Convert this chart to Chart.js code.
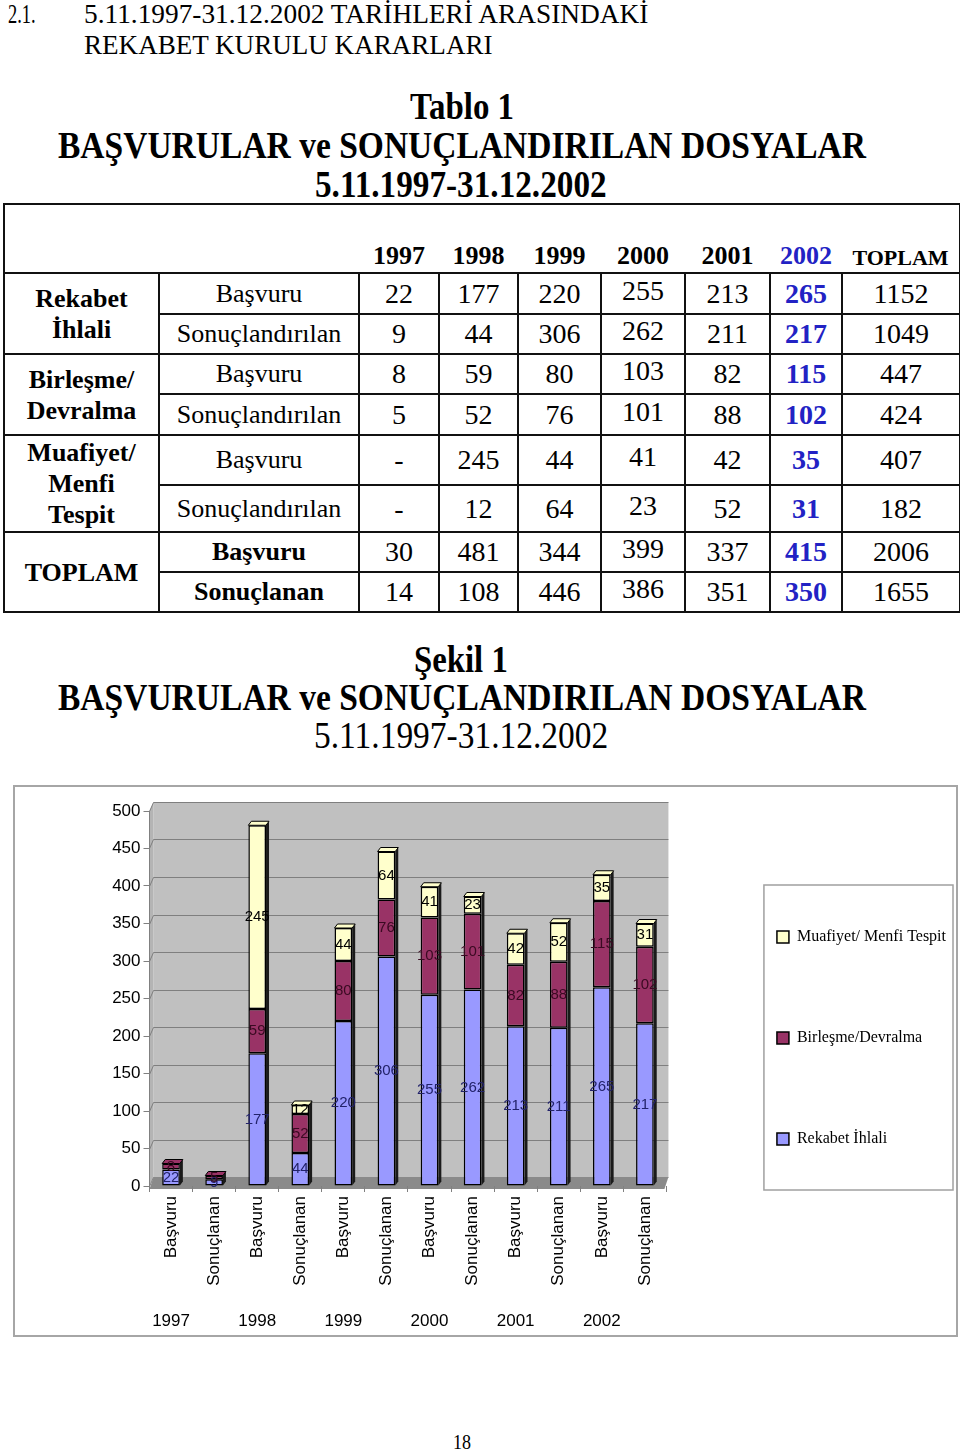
<!DOCTYPE html>
<html lang="tr">
<head>
<meta charset="utf-8">
<title>Başvurular ve Sonuçlandırılan Dosyalar</title>
<script src="https://cdn.jsdelivr.net/npm/chart.js@4.4.1/dist/chart.umd.min.js"></script>
<style>
  html, body { margin: 0; padding: 0; background: #fff; }
  body { width: 960px; height: 1454px; position: relative; overflow: hidden;
         font-family: "Liberation Serif", "Times New Roman", serif; color: #000; }
  .line { position: absolute; white-space: nowrap; }
  .line span { display: inline-block; transform-origin: 0 0; }
  #tablo { position: absolute; left: 3px; top: 203px; width: 956px;
           border-collapse: collapse; table-layout: fixed; }
  #tablo td { border: 2px solid #111; text-align: center; padding: 0; font-size: 28px; line-height: 1; }
  #tablo td.grp { font-weight: bold; font-size: 26px; line-height: 31px; }
  #tablo td.lbl { font-size: 26px; }
  #tablo td.b { font-weight: bold; }
  #tablo td.blue { color: #2222c4; font-weight: bold; }
  #tablo td.up { padding-bottom: 6px; }
  #tablo tr.head td { border-left: none; border-right: none; font-weight: bold; font-size: 26px;
                      vertical-align: bottom; padding-bottom: 3px; }
  #tablo tr.head td:first-child { border-left: 2px solid #111; }
  #tablo tr.head td:last-child { border-right: 2px solid #111; font-size: 22px; }
  #chartBox { position: absolute; left: 13px; top: 785px; width: 945px; height: 552px;
              box-sizing: border-box; border: 2px solid #a6a6a6; }
</style>
</head>
<body>
<table id="tablo"></table>
<div id="chartBox"><canvas id="sekil"></canvas></div>
<script>
// --- data read from the page ---
const years = ['1997', '1998', '1999', '2000', '2001', '2002'];
const rekabetBasvuru = [22, 177, 220, 255, 213, 265];
const rekabetSonuc = [9, 44, 306, 262, 211, 217];
const birlesmeBasvuru = [8, 59, 80, 103, 82, 115];
const birlesmeSonuc = [5, 52, 76, 101, 88, 102];
const muafiyetBasvuru = [null, 245, 44, 41, 42, 35];
const muafiyetSonuc = [null, 12, 64, 23, 52, 31];
const toplamBasvuru = [30, 481, 344, 399, 337, 415];
const toplamSonuclanan = [14, 108, 446, 386, 351, 350];
const rowTotals = [1152, 1049, 447, 424, 407, 182, 2006, 1655];

const barLabels = ['Başvuru', 'Sonuçlanan', 'Başvuru', 'Sonuçlanan', 'Başvuru', 'Sonuçlanan',
                   'Başvuru', 'Sonuçlanan', 'Başvuru', 'Sonuçlanan', 'Başvuru', 'Sonuçlanan'];
const yearTicks = ['1997', '', '1998', '', '1999', '', '2000', '', '2001', '', '2002', ''];
const seriesNames = ['Rekabet İhlali', 'Birleşme/Devralma', 'Muafiyet/ Menfi Tespit'];
const yTicks = { min: 0, max: 500, step: 50 };

// --- page text ---
const lines = [
  { t: '2.1.', x: 8, w: 28, cap: 6, f: 27 },
  { t: '5.11.1997-31.12.2002 TARİHLERİ ARASINDAKİ', x: 84, w: 564, cap: 6, f: 27 },
  { t: 'REKABET KURULU KARARLARI', x: 84, w: 409, cap: 37, f: 27 },
  { t: 'Tablo 1', c: 462, w: 104, cap: 94, f: 38, b: true },
  { t: 'BAŞVURULAR ve SONUÇLANDIRILAN DOSYALAR', c: 462, w: 808, cap: 133, f: 38, b: true },
  { t: '5.11.1997-31.12.2002', c: 461, w: 292, cap: 172, f: 38, b: true },
  { t: 'Şekil 1', c: 461, w: 94, cap: 647, f: 38, b: true },
  { t: 'BAŞVURULAR ve SONUÇLANDIRILAN DOSYALAR', c: 462, w: 808, cap: 685, f: 38, b: true },
  { t: '5.11.1997-31.12.2002', c: 461, w: 294, cap: 723, f: 38 },
  { t: '18', c: 462, w: 18, cap: 1436, f: 20 }
];
lines.forEach(l => {
  const d = document.createElement('div');
  d.className = 'line';
  d.style.fontSize = l.f + 'px';
  d.style.lineHeight = l.f + 'px';
  d.style.fontWeight = l.b ? 'bold' : 'normal';
  d.style.top = (l.cap - 0.1825 * l.f) + 'px';
  d.style.left = (l.c !== undefined ? l.c - l.w / 2 : l.x) + 'px';
  const s = document.createElement('span');
  s.textContent = l.t;
  d.appendChild(s);
  document.body.appendChild(d);
  s.style.transform = 'scaleX(' + (l.w / s.offsetWidth) + ')';
});

// --- table ---
const groups = [
  { name: 'Rekabet<br>İhlali', rows: [['Başvuru', rekabetBasvuru], ['Sonuçlandırılan', rekabetSonuc]] },
  { name: 'Birleşme/<br>Devralma', rows: [['Başvuru', birlesmeBasvuru], ['Sonuçlandırılan', birlesmeSonuc]] },
  { name: 'Muafiyet/<br>Menfi<br>Tespit', rows: [['Başvuru', muafiyetBasvuru], ['Sonuçlandırılan', muafiyetSonuc]] },
  { name: 'TOPLAM', bold: true, rows: [['Başvuru', toplamBasvuru], ['Sonuçlanan', toplamSonuclanan]] }
];
const rowHeights = [41, 40, 40, 41, 50, 47, 40, 40];
const colWidths = [155, 200, 80, 79, 83, 84, 85, 72, 118];
let html = '<colgroup>' + colWidths.map(w => '<col style="width:' + w + 'px">').join('') + '</colgroup>';
html += '<tr class="head" style="height:69px"><td colspan="2"></td>' +
  years.map(y => '<td' + (y === '2002' ? ' style="color:#2222c4"' : '') + '>' + y + '</td>').join('') +
  '<td>TOPLAM</td></tr>';
let r = 0;
groups.forEach(g => {
  g.rows.forEach((row, k) => {
    html += '<tr style="height:' + rowHeights[r] + 'px">';
    if (k === 0) html += '<td class="grp" rowspan="2">' + g.name + '</td>';
    html += '<td class="lbl' + (g.bold ? ' b' : '') + '">' + row[0] + '</td>';
    row[1].forEach((v, i) => {
      const cls = i === 5 ? ' class="blue"' : (i === 3 ? ' class="up"' : '');
      html += '<td' + cls + '>' + (v === null ? '-' : v) + '</td>';
    });
    html += '<td>' + rowTotals[r] + '</td></tr>';
    r++;
  });
});
document.getElementById('tablo').innerHTML = html;

// --- chart ---
const pair = (a, b) => years.flatMap((_, i) => [a[i], b[i]]);
const rekabetIhlali = pair(rekabetBasvuru, rekabetSonuc);
const birlesmeDevralma = pair(birlesmeBasvuru, birlesmeSonuc);
const muafiyetMenfi = pair(muafiyetBasvuru, muafiyetSonuc);

const fills = ['#9999ff', '#993366', '#ffffcc'];
const labelInk = ['#22226a', '#3a0a22', '#000000'];

const wall = {
  id: 'wall',
  beforeDraw(chart) {
    const { ctx, chartArea: a, scales: { y } } = chart;
    const dx = 4, dy = 9;
    ctx.save();
    ctx.fillStyle = '#c0c0c0';
    ctx.fillRect(a.left + dx, a.top - dy, a.right - a.left - dx + 2, a.bottom - a.top);
    ctx.fillStyle = '#b4b4b4';
    ctx.beginPath();
    ctx.moveTo(a.left, a.top); ctx.lineTo(a.left + dx, a.top - dy);
    ctx.lineTo(a.left + dx, a.bottom - dy); ctx.lineTo(a.left, a.bottom);
    ctx.closePath(); ctx.fill();
    ctx.strokeStyle = '#7f7f7f';
    ctx.lineWidth = 1;
    y.ticks.forEach(t => {
      const py = Math.round(y.getPixelForValue(t.value) - dy) + 0.5;
      ctx.beginPath();
      ctx.moveTo(a.left, py + dy); ctx.lineTo(a.left + dx, py); ctx.lineTo(a.right + 2, py);
      ctx.stroke();
    });
    ctx.fillStyle = '#8a8a8a';
    ctx.beginPath();
    ctx.moveTo(a.left, a.bottom + 3); ctx.lineTo(a.right - 2, a.bottom + 3);
    ctx.lineTo(a.right + 2, a.bottom - dy); ctx.lineTo(a.left + dx, a.bottom - dy);
    ctx.closePath(); ctx.fill();
    ctx.restore();
  }
};

const caps = {
  id: 'caps',
  afterDatasetsDraw(chart) {
    const ctx = chart.ctx;
    const sets = chart.data.datasets;
    ctx.save();
    ctx.strokeStyle = '#000';
    ctx.lineWidth = 1;
    chart.data.labels.forEach((_, i) => {
      let top = null, bottom = null, color = null;
      sets.forEach((ds, k) => {
        if (ds.data[i] === null) return;
        const el = chart.getDatasetMeta(k).data[i];
        if (bottom === null) bottom = el.base;
        top = el; color = ds.backgroundColor;
      });
      if (!top) return;
      const x0 = top.x - top.width / 2, x1 = top.x + top.width / 2, yt = top.y;
      ctx.fillStyle = '#1a1a1a';
      ctx.beginPath();
      ctx.moveTo(x1, yt); ctx.lineTo(x1 + 3, yt - 4); ctx.lineTo(x1 + 3, bottom - 4); ctx.lineTo(x1, bottom);
      ctx.closePath(); ctx.fill();
      ctx.fillStyle = color;
      ctx.beginPath();
      ctx.moveTo(x0, yt); ctx.lineTo(x0 + 3, yt - 4); ctx.lineTo(x1 + 3, yt - 4); ctx.lineTo(x1, yt);
      ctx.closePath(); ctx.fill(); ctx.stroke();
    });
    ctx.restore();
  }
};

const valueLabels = {
  id: 'valueLabels',
  afterDatasetsDraw(chart) {
    const ctx = chart.ctx;
    ctx.save();
    ctx.font = '15px "Liberation Sans", Arial, sans-serif';
    ctx.textAlign = 'center';
    ctx.textBaseline = 'middle';
    chart.data.datasets.forEach((ds, k) => {
      ctx.fillStyle = labelInk[k];
      chart.getDatasetMeta(k).data.forEach((el, i) => {
        const v = ds.data[i];
        if (v === null) return;
        ctx.fillText(String(v), el.x, (el.y + el.base) / 2);
      });
    });
    ctx.restore();
  }
};

const legendFrame = {
  id: 'legendFrame',
  afterDraw(chart) {
    const lg = chart.legend;
    const hb = lg.legendHitBoxes;
    if (!hb || !hb.length) return;
    const first = hb[0], last = hb[hb.length - 1];
    const ctx = chart.ctx;
    ctx.save();
    ctx.strokeStyle = '#a0a0a0';
    ctx.lineWidth = 1.5;
    const x = first.left - 13, y = first.top - 44;
    ctx.strokeRect(x, y, lg.right - 3 - x, last.top + last.height + 43 - y);
    ctx.restore();
  }
};

new Chart(document.getElementById('sekil'), {
  type: 'bar',
  data: {
    labels: barLabels,
    datasets: [
      { label: seriesNames[0], data: rekabetIhlali, backgroundColor: fills[0] },
      { label: seriesNames[1], data: birlesmeDevralma, backgroundColor: fills[1] },
      { label: seriesNames[2], data: muafiyetMenfi, backgroundColor: fills[2] }
    ].map(ds => Object.assign(ds, {
      borderColor: '#000', borderWidth: 1.5, borderSkipped: false,
      barPercentage: 0.41, categoryPercentage: 1
    }))
  },
  options: {
    responsive: true,
    maintainAspectRatio: false,
    animation: false,
    layout: { padding: { top: 24, right: 0, bottom: 0, left: 0 } },
    plugins: {
      tooltip: { enabled: false },
      legend: {
        position: 'right',
        align: 'start',
        reverse: true,
        maxWidth: 400,
        title: { display: true, text: '', font: { size: 12 }, padding: { top: 18.6, bottom: 0 } },
        labels: {
          boxWidth: 12, boxHeight: 12, padding: 85, color: '#000',
          font: { family: '"Liberation Serif", "Times New Roman", serif', size: 16 }
        }
      }
    },
    scales: {
      x: {
        stacked: true,
        grid: { drawOnChartArea: false, drawTicks: true, tickLength: 6, color: '#808080' },
        border: { display: false },
        ticks: {
          minRotation: 90, maxRotation: 90, autoSkip: false, padding: 4, color: '#000',
          font: { family: '"Liberation Sans", Arial, sans-serif', size: 17 }
        },
        afterFit(s) { s.height = 115; }
      },
      x2: {
        type: 'category',
        position: 'bottom',
        labels: yearTicks,
        offset: true,
        grid: { display: false, drawTicks: false },
        border: { display: false },
        ticks: {
          maxRotation: 0, minRotation: 0, autoSkip: false, padding: 10, color: '#000',
          font: { family: '"Liberation Sans", Arial, sans-serif', size: 17 }
        },
        afterFit(s) { s.height = 34; }
      },
      y: {
        stacked: true,
        min: yTicks.min,
        max: yTicks.max,
        grid: { drawOnChartArea: false, drawTicks: true, tickLength: 6, color: '#808080' },
        border: { display: true, color: '#808080', width: 1 },
        ticks: {
          stepSize: yTicks.step, padding: 3, color: '#000',
          font: { family: '"Liberation Sans", Arial, sans-serif', size: 17 }
        },
        afterFit(s) { s.width = 134.5; }
      },
      yR: {
        type: 'linear',
        position: 'right',
        grid: { display: false },
        border: { display: false },
        ticks: { display: false },
        afterFit(s) { s.width = 25.5; }
      }
    }
  },
  plugins: [wall, caps, valueLabels, legendFrame]
});
</script>
</body>
</html>
